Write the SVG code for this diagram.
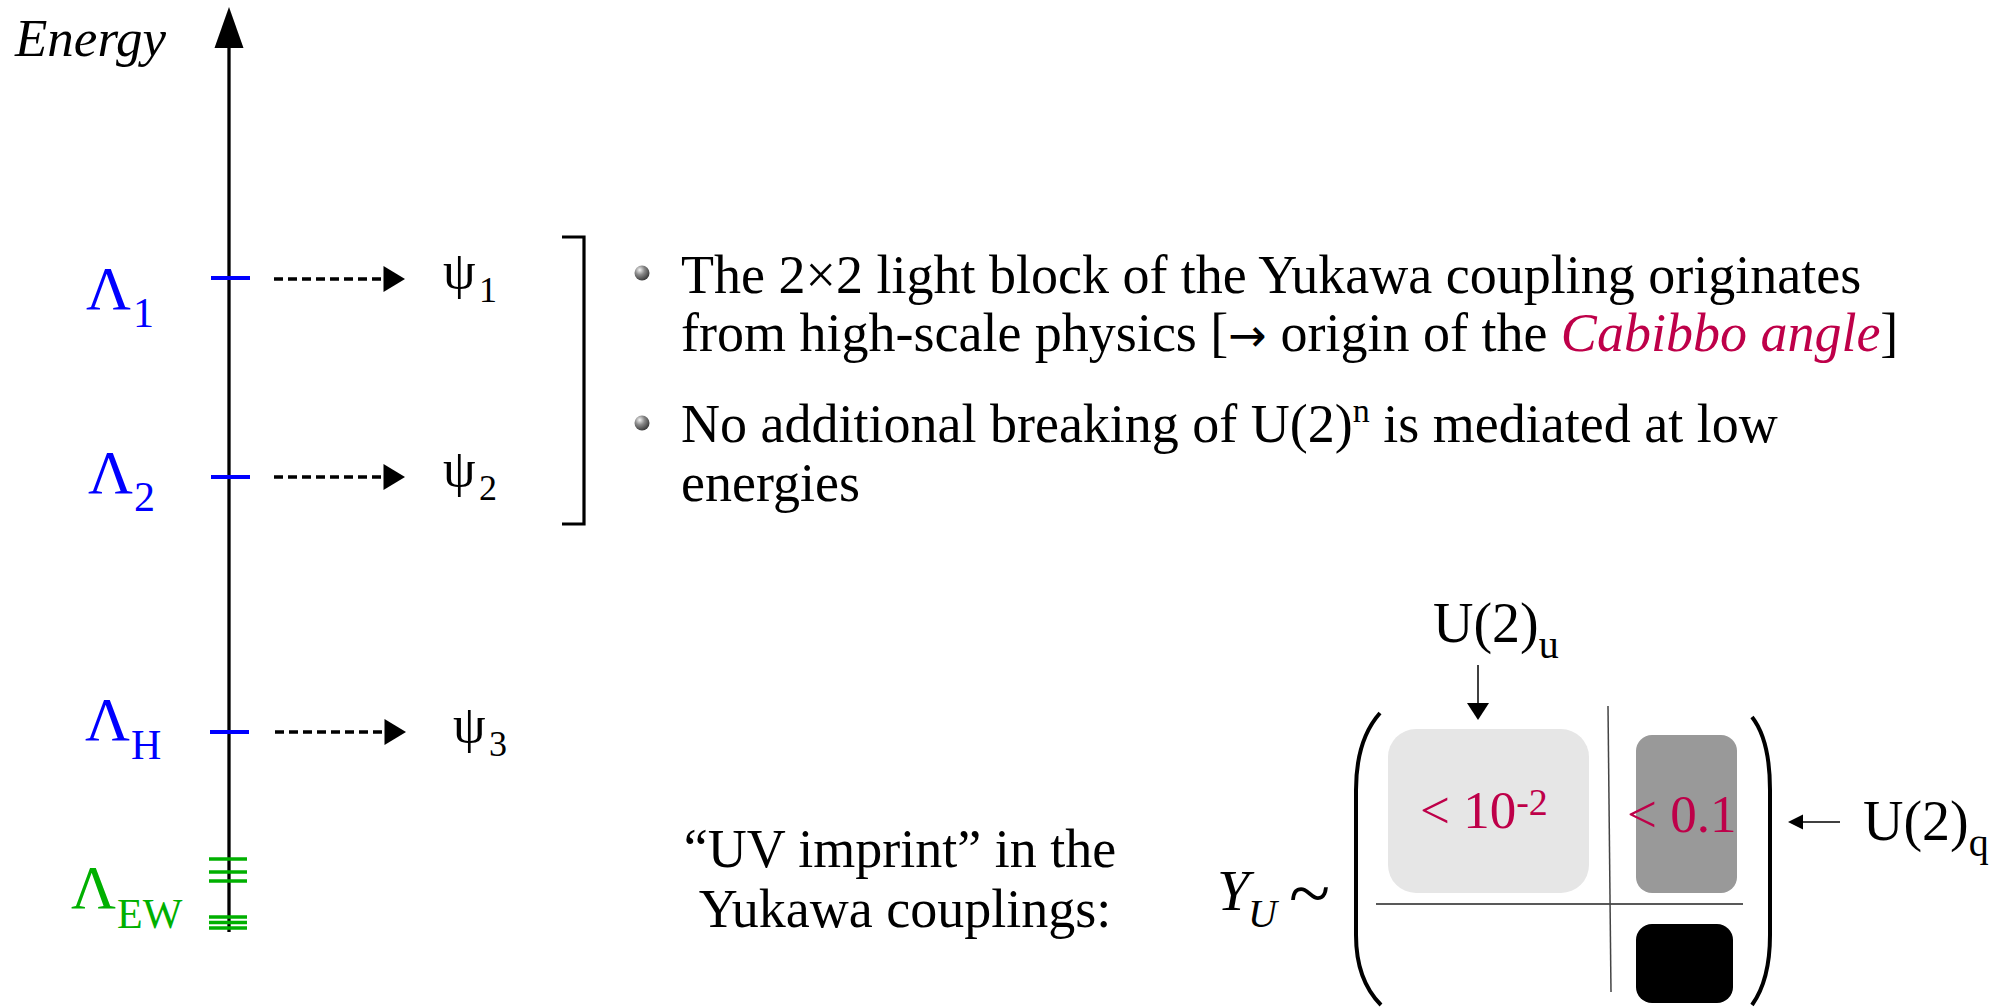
<svg xmlns="http://www.w3.org/2000/svg" width="2002" height="1007" viewBox="0 0 2002 1007">
<defs>
<radialGradient id="ball" cx="0.35" cy="0.3" r="0.8">
<stop offset="0" stop-color="#f4f4f4"/>
<stop offset="0.4" stop-color="#8a8a8a"/>
<stop offset="1" stop-color="#2a2a2a"/>
</radialGradient>
</defs>
<style>
text{font-family:"Liberation Serif","Times New Roman",serif;fill:#000}
.body{font-size:54px}
.lam{font-size:62px;fill:#0000ff}
.lamsub{font-size:42px;fill:#0000ff}
.lamg{font-size:62px;fill:#00b000}
.lamgsub{font-size:42px;fill:#00b000}
.psi{font-size:52px}
.psisub{font-size:36px}
.red{fill:#be0049}
.it{font-style:italic}
.blue{stroke:#0000ff;stroke-width:4}
.green{stroke:#00b000;stroke-width:3.6}
.dash{stroke:#000;stroke-width:3.5;stroke-dasharray:9 5;fill:none}
</style>
<rect width="2002" height="1007" fill="#fff"/>

<g id="axis">
<line x1="229" y1="44" x2="229" y2="932" stroke="#000" stroke-width="3.3"/>
<polygon points="229,7 214.5,48 243.5,48" fill="#000"/>
<text x="15" y="56" class="it" font-size="53">Energy</text>
</g>

<g id="lambda1">
<line x1="211" y1="278" x2="250" y2="278" class="blue"/>
<text x="86" y="309" class="lam">Λ</text>
<text x="133" y="327" class="lamsub">1</text>
</g>
<g id="lambda2">
<line x1="211" y1="477" x2="250" y2="477" class="blue"/>
<text x="88" y="493" class="lam">Λ</text>
<text x="134" y="511" class="lamsub">2</text>
</g>
<g id="lambdaH">
<line x1="210" y1="732" x2="249" y2="732" class="blue"/>
<text x="85" y="740" class="lam">Λ</text>
<text x="131" y="759" class="lamsub">H</text>
</g>
<g id="lambdaEW">
<line x1="209" y1="859" x2="247" y2="859" class="green"/>
<line x1="209" y1="872" x2="247" y2="872" class="green"/>
<line x1="209" y1="881" x2="247" y2="881" class="green"/>
<line x1="209" y1="917" x2="247" y2="917" class="green"/>
<line x1="209" y1="922.5" x2="247" y2="922.5" class="green"/>
<line x1="209" y1="928" x2="247" y2="928" class="green"/>
<text x="71" y="908" class="lamg">Λ</text>
<text x="117" y="928" class="lamgsub">EW</text>
</g>

<g id="psi1"><text x="443" y="288" class="psi">ψ</text><text x="479" y="302" class="psisub">1</text></g>
<g id="psi2"><text x="443" y="486" class="psi">ψ</text><text x="479" y="500" class="psisub">2</text></g>
<g id="psi3"><text x="453" y="742" class="psi">ψ</text><text x="489" y="756" class="psisub">3</text></g>

<g id="connectors">
<line x1="274" y1="279" x2="386" y2="279" class="dash"/>
<polygon points="383.5,266 405,279 383.5,292" fill="#000"/>
<line x1="274" y1="477" x2="386" y2="477" class="dash"/>
<polygon points="383.5,464 405,477 383.5,490" fill="#000"/>
<line x1="275" y1="732" x2="387" y2="732" class="dash"/>
<polygon points="384.5,719 406,732 384.5,745" fill="#000"/>
<line x1="1478" y1="665" x2="1478" y2="705" stroke="#000" stroke-width="1.5"/>
<polygon points="1467,703 1489,703 1478,720" fill="#000"/>
<line x1="1840" y1="822" x2="1800" y2="822" stroke="#000" stroke-width="1.5"/>
<polygon points="1803,814.5 1803,829.5 1788,822" fill="#000"/>
</g>

<g id="bracket">
<path d="M562,237 H584 V524 H562" fill="none" stroke="#000" stroke-width="3.2"/>
</g>

<g id="bullets">
<circle cx="642" cy="273" r="7.5" fill="url(#ball)"/>
<text x="681" y="293" class="body">The 2×2 light block of the Yukawa coupling originates</text>
<text x="681" y="351" class="body">from high-scale physics [<tspan font-family="DejaVu Sans" font-size="46">→</tspan> origin of the <tspan class="red it">Cabibbo angle</tspan>]</text>
<circle cx="642" cy="423" r="7.5" fill="url(#ball)"/>
<text x="681" y="442" class="body">No additional breaking of U(2)<tspan font-size="34" dy="-20">n</tspan><tspan dy="20"> is mediated at low</tspan></text>
<text x="681" y="501" class="body">energies</text>
</g>

<g id="imprint">
<text x="900" y="867" class="body" text-anchor="middle">“UV imprint” in the</text>
<text x="905" y="927" class="body" text-anchor="middle">Yukawa couplings:</text>
</g>

<g id="matrix">
<text x="1217" y="910" class="it" font-size="58">Y</text>
<text x="1248" y="927" class="it" font-size="40">U</text>
<text x="1289" y="919" font-size="76">~</text>
<path d="M1380,713 Q1356,740 1356,790 V935 Q1356,980 1381,1005" fill="none" stroke="#000" stroke-width="4"/>
<path d="M1752,717 Q1770,740 1770,790 V935 Q1770,980 1752,1005" fill="none" stroke="#000" stroke-width="4"/>
<rect x="1388" y="729" width="201" height="164" rx="28" fill="#e6e6e6"/>
<rect x="1636" y="735" width="101" height="158" rx="16" fill="#999999"/>
<rect x="1636" y="924" width="97" height="79" rx="16" fill="#000"/>
<line x1="1376" y1="904" x2="1743" y2="904" stroke="#222" stroke-width="1.5"/>
<line x1="1608" y1="706" x2="1611" y2="992" stroke="#444" stroke-width="1.5"/>
<text x="1420" y="828" font-size="53" class="red">&lt; 10<tspan font-size="38" dy="-13">-2</tspan></text>
<text x="1627" y="832" font-size="53" class="red">&lt; 0.1</text>
</g>

<g id="u2u">
<text x="1433" y="642" font-size="56">U(2)<tspan font-size="40" dy="16">u</tspan></text>
</g>
<g id="u2q">
<text x="1863" y="840" font-size="56">U(2)<tspan font-size="40" dy="16">q</tspan></text>
</g>
</svg>
